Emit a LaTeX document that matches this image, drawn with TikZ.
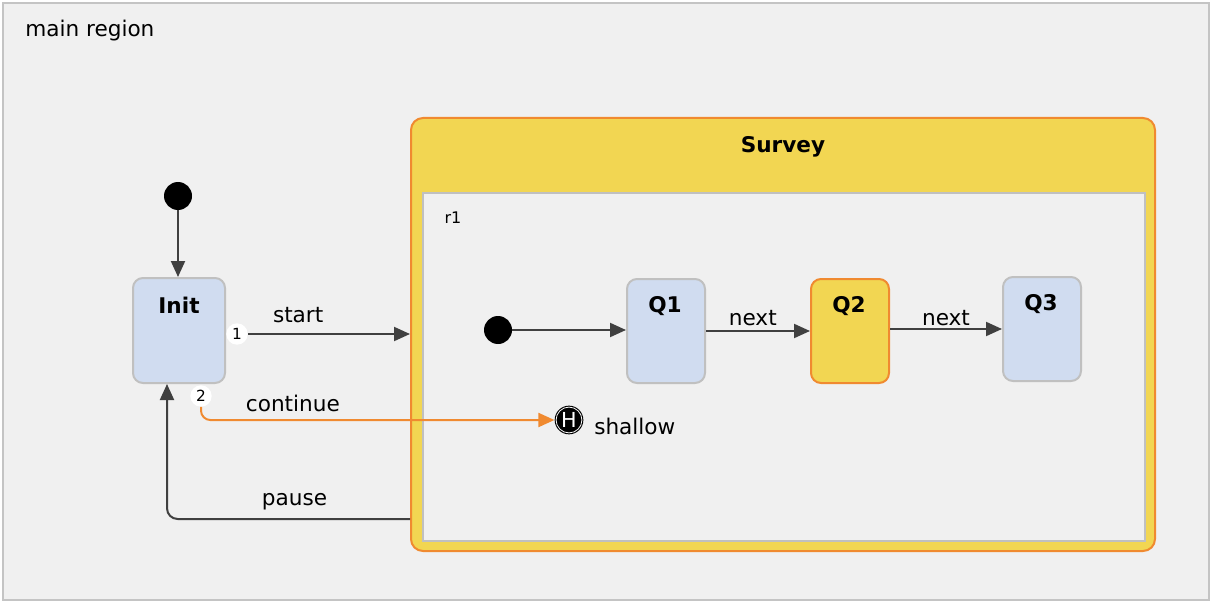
\documentclass[tikz,border=0pt]{standalone}
\usepackage{fontspec}
\setmainfont{DejaVu Sans}
\usetikzlibrary{arrows.meta,fit}
\definecolor{bg}{HTML}{F0F0F0}
\definecolor{frame}{HTML}{C4C4C4}
\definecolor{stblue}{HTML}{D0DCF0}
\definecolor{stgray}{HTML}{C0C0C0}
\definecolor{syellow}{HTML}{F2D652}
\definecolor{sorange}{HTML}{F08A30}
\definecolor{arr}{HTML}{404040}
\begin{document}
\begin{tikzpicture}[x=0.75pt,y=-0.75pt,
  txt/.style={font=\fontsize{16.2}{19}\selectfont, inner sep=0pt},
  ttl/.style={font=\fontsize{16.2}{19}\selectfont\bfseries, inner sep=0pt},
  bluestate/.style={draw=stgray, fill=stblue, line width=1.5pt, rounded corners=7.5pt, inner sep=0pt},
  activestate/.style={draw=sorange, fill=syellow, line width=1.5pt, rounded corners=7.5pt, inner sep=0pt},
  initdot/.style={circle, fill=black, inner sep=0pt, minimum size=21pt},
  badge/.style={circle, fill=white, inner sep=0pt, minimum size=16pt, font=\fontsize{11.5}{13}\selectfont},
  hist/.style={circle, fill=black, inner sep=0pt, minimum size=21.5pt, text=white, font=\fontsize{15.5}{17}\selectfont},
  conn/.style={draw=arr, line width=1.5pt, -{Triangle[length=12pt,width=10.5pt]}},
  oconn/.style={draw=sorange, line width=1.5pt, -{Triangle[length=12pt,width=10.5pt]}}
]
\path[use as bounding box] (0,0) rectangle (1212,602);
% main region
\node[draw=frame, fill=bg, line width=1.5pt, inner sep=0pt, fit={(3,3) (1209,600)}] (main) {};
\node[txt, anchor=west] (mainlbl) at (25,31) {main region};
% Survey composite state
\node[draw=sorange, fill=syellow, line width=1.5pt, rounded corners=9pt, inner sep=0pt, fit={(411,118) (1155,551)}] (Survey) {};
\node[ttl] (surveylbl) at (783,147) {Survey};
\node[draw=stgray, fill=bg, line width=1.5pt, inner sep=0pt, fit={(423,193) (1145,541)}] (r1) {};
\node[font=\fontsize{12}{14}\selectfont, inner sep=0pt] (r1lbl) at (453,218) {r1};
% Init
\node[initdot] (i0) at (178,196) {};
\node[bluestate, fit={(133,278) (225,383)}] (Init) {};
\node[ttl] (initlbl) at (179,305) {Init};
% inner states
\node[initdot] (i1) at (498,330) {};
\node[bluestate, fit={(627,279) (705,383)}] (Q1) {};
\node[ttl] (q1lbl) at (665,306) {Q1};
\node[activestate, fit={(811,279) (889,383)}] (Q2) {};
\node[ttl] (q2lbl) at (849,306) {Q2};
\node[bluestate, fit={(1003,277) (1081,381)}] (Q3) {};
\node[ttl] (q3lbl) at (1041,304) {Q3};
% history
\node[hist] (H) at (569,420) {H};
\draw[white, line width=0.6pt] (H.center) circle (9.7pt);
\node[txt, anchor=west] (shallow) at (594,426) {shallow};
% badges
\node[badge] (b1) at (237,334) {1};
\node[badge] (b2) at (201,396) {2};
% connectors
\draw[conn] (i0) -- (i0 |- Init.north);
\draw[conn] (b1) -- (b1 -| Survey.west) node[txt, pos=0.31, yshift=14.25pt] {start};
\draw[oconn, rounded corners=7pt] (b2.south) -- (b2 |- H.west) -- node[txt, pos=0.26, yshift=12.75pt] {continue} (H.west);
\coordinate (pstart) at (Survey.west |- 0,519);
\coordinate (pcorner) at (167,519);
\draw[conn, rounded corners=8pt] (pstart) -- node[txt, pos=0.475, yshift=12.75pt] {pause} (pcorner) -- (Init.south -| pcorner);
\draw[conn] (i1) -- (i1 -| Q1.west);
\draw[conn] (Q1) -- node[txt, pos=0.45, yshift=9.75pt] {next} (Q2);
\draw[conn] (Q2.east |- Q3.west) -- node[txt, pos=0.5, yshift=8.25pt] {next} (Q3.west);
\end{tikzpicture}
\end{document}
